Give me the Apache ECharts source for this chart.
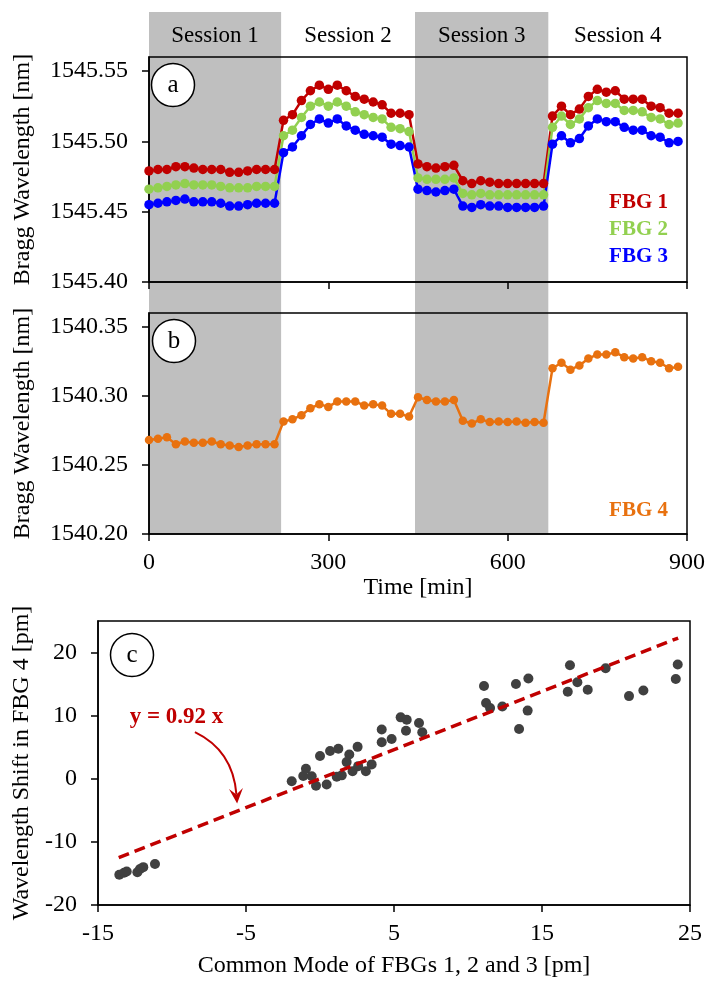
<!DOCTYPE html>
<html><head><meta charset="utf-8">
<script src="https://cdn.jsdelivr.net/npm/echarts@6/dist/echarts.min.js"></script>
<style>html,body{margin:0;padding:0;background:#fff}#c{width:719px;height:992px}</style>
</head><body><div id="c"></div>
<script>
// ---------- data ----------
const times = [0,15,30,45,60,75,90,105,120,135,150,165,180,195,210,
  225,240,255,270,285,300,315,330,345,360,375,390,405,420,435,
  450,465,480,495,510,525,540,555,570,585,600,615,630,645,660,
  675,690,705,720,735,750,765,780,795,810,825,840,855,870,885];

const fbg1 = [1545.479,1545.480,1545.480,1545.482,1545.482,1545.481,1545.480,1545.480,1545.480,1545.478,1545.478,1545.479,1545.480,1545.480,1545.480,
  1545.515,1545.519,1545.529,1545.536,1545.540,1545.537,1545.540,1545.536,1545.532,1545.530,1545.528,1545.526,1545.520,1545.520,1545.519,
  1545.484,1545.482,1545.481,1545.482,1545.483,1545.472,1545.470,1545.472,1545.471,1545.470,1545.470,1545.470,1545.470,1545.470,1545.470,
  1545.518,1545.525,1545.519,1545.523,1545.532,1545.537,1545.535,1545.536,1545.530,1545.530,1545.530,1545.525,1545.524,1545.520,1545.520];

const fbg2 = [1545.466,1545.467,1545.468,1545.469,1545.470,1545.469,1545.469,1545.469,1545.468,1545.467,1545.467,1545.467,1545.468,1545.468,1545.468,
  1545.504,1545.508,1545.517,1545.525,1545.528,1545.525,1545.528,1545.525,1545.521,1545.519,1545.517,1545.516,1545.510,1545.509,1545.507,
  1545.474,1545.473,1545.473,1545.473,1545.474,1545.463,1545.462,1545.463,1545.462,1545.462,1545.462,1545.462,1545.462,1545.462,1545.462,
  1545.510,1545.518,1545.512,1545.516,1545.524,1545.529,1545.527,1545.527,1545.522,1545.522,1545.521,1545.517,1545.516,1545.512,1545.513];

const fbg3 = [1545.455,1545.456,1545.457,1545.458,1545.459,1545.457,1545.457,1545.457,1545.456,1545.454,1545.454,1545.455,1545.456,1545.456,1545.456,
  1545.492,1545.496,1545.504,1545.512,1545.516,1545.513,1545.516,1545.511,1545.508,1545.505,1545.504,1545.503,1545.498,1545.497,1545.496,
  1545.466,1545.465,1545.464,1545.465,1545.466,1545.454,1545.453,1545.455,1545.454,1545.454,1545.453,1545.453,1545.453,1545.453,1545.454,
  1545.498,1545.504,1545.499,1545.502,1545.511,1545.516,1545.514,1545.514,1545.510,1545.508,1545.508,1545.504,1545.503,1545.499,1545.500];

const fbg4 = [1540.268,1540.269,1540.270,1540.265,1540.267,1540.266,1540.266,1540.267,1540.265,1540.264,1540.263,1540.264,1540.265,1540.265,1540.265,
  1540.2815,1540.283,1540.286,1540.291,1540.294,1540.292,1540.296,1540.296,1540.296,1540.293,1540.294,1540.293,1540.287,1540.287,1540.285,
  1540.299,1540.297,1540.296,1540.296,1540.297,1540.282,1540.280,1540.283,1540.281,1540.2815,1540.281,1540.2815,1540.2805,1540.281,1540.2805,
  1540.320,1540.324,1540.319,1540.322,1540.327,1540.330,1540.330,1540.3315,1540.328,1540.327,1540.328,1540.325,1540.324,1540.320,1540.321];

const sessionNames = ['Session 1','Session 2','Session 3','Session 4'];
const sessionStart = [0, 221, 445, 668];
const sessionEnd   = [221, 445, 668, 900];
const sessionShaded = [true, false, true, false];

const timeTicks = [0, 300, 600, 900];
const yTicksA = [1545.40, 1545.45, 1545.50, 1545.55];
const yTicksB = [1540.20, 1540.25, 1540.30, 1540.35];

const scatterX = [-13.56,-13.24,-13.06,-12.34,-12.16,-11.94,-11.15,
  -1.91,-0.95,-1.13,-0.56,-0.27,0.0,0.45,0.68,1.24,1.13,1.47,1.8,1.98,2.2,2.54,2.58,3.1,3.49,4.17,4.17,4.84,5.45,5.86,5.81,6.69,6.91,
  11.08,11.22,11.49,12.32,13.24,14.08,14.03,13.45,16.89,16.74,17.39,18.09,19.3,20.88,21.85,24.17,24.04];
const scatterY = [-15.2,-14.9,-14.7,-14.8,-14.3,-14.0,-13.5,
  -0.4,1.6,0.43,0.4,-1.1,3.6,-0.9,4.4,4.75,0.34,0.54,2.64,3.85,1.2,5.06,2.0,1.2,2.28,7.8,5.8,6.3,9.73,9.36,7.6,8.84,7.36,
  14.7,12.0,11.2,11.46,15.03,15.9,10.8,7.9,18.0,13.8,15.3,14.1,17.5,13.1,14.0,18.1,15.8];
const trendX = [-13.6, 24.2];
const trendY = [-12.5, 22.3];
const xTicksC = [-15, -5, 5, 15, 25];
const yTicksC = [-20, -10, 0, 10, 20];

// ---------- chart ----------
const FONT = "'Liberation Serif','Times New Roman',serif";
const C_RED = '#C00000', C_GREEN = '#92D050', C_BLUE = '#0000FF', C_ORANGE = '#E8710F', C_GRAY = '#BFBFBF';
const chart = echarts.init(document.getElementById('c'), null, {renderer: 'canvas'});

function zip(a, b) { return a.map((v, i) => [v, b[i]]); }

const axisLineStyle = {show: true, onZero: false, lineStyle: {color: '#000', width: 1.5}};
const tickStyle = {show: true, inside: false, length: 7, lineStyle: {color: '#000', width: 1.5}};
const labelStyle = {color: '#000', fontSize: 24, fontFamily: FONT};
const nameStyle = {color: '#000', fontSize: 24, fontFamily: FONT};

const bandData = sessionNames.map((n, i) => [
  {name: n, xAxis: sessionStart[i], itemStyle: {color: sessionShaded[i] ? C_GRAY : 'rgba(0,0,0,0)'}},
  {xAxis: sessionEnd[i]}
]);

function lineSeries(name, data, color, xi, size) {
  return {
    name, type: 'line', xAxisIndex: xi, yAxisIndex: xi, data: zip(times, data),
    symbol: 'circle', symbolSize: size, showSymbol: true, z: 3,
    lineStyle: {color, width: 2.5}, itemStyle: {color}, emphasis: {disabled: true}, animation: false
  };
}

const option = {
  animation: false,
  backgroundColor: '#fff',
  grid: [
    {left: 149, right: 32, top: 12, height: 522, show: false},
    {left: 149, right: 32, top: 57, height: 225, show: true, borderColor: '#000', borderWidth: 1.5, backgroundColor: 'transparent'},
    {left: 149, right: 32, top: 313, height: 221, show: true, borderColor: '#000', borderWidth: 1.5, backgroundColor: 'transparent'},
    {left: 98, right: 29, top: 621, height: 284, show: true, borderColor: '#000', borderWidth: 1.5, backgroundColor: 'transparent'}
  ],
  xAxis: [
    {gridIndex: 0, type: 'value', min: 0, max: 900, show: false},
    {gridIndex: 1, type: 'value', min: 0, max: 900, interval: 300, axisLine: axisLineStyle, axisTick: tickStyle,
      axisLabel: {show: false}, splitLine: {show: false}},
    {gridIndex: 2, type: 'value', min: 0, max: 900, interval: 300, axisLine: axisLineStyle, axisTick: tickStyle,
      axisLabel: Object.assign({margin: 17}, labelStyle), splitLine: {show: false},
      name: 'Time [min]', nameLocation: 'middle', nameGap: 39, nameTextStyle: nameStyle},
    {gridIndex: 3, type: 'value', min: -15, max: 25, axisLine: axisLineStyle,
      axisTick: Object.assign({customValues: xTicksC}, tickStyle),
      axisLabel: Object.assign({margin: 17, customValues: xTicksC}, labelStyle), splitLine: {show: false},
      name: 'Common Mode of FBGs 1, 2 and 3 [pm]', nameLocation: 'middle', nameGap: 49, nameTextStyle: nameStyle}
  ],
  yAxis: [
    {gridIndex: 0, type: 'value', min: 0, max: 1, show: false},
    {gridIndex: 1, type: 'value', min: 1545.40, max: 1545.56, axisLine: axisLineStyle,
      axisTick: Object.assign({customValues: yTicksA}, tickStyle),
      axisLabel: Object.assign({margin: 21, customValues: yTicksA, formatter: v => v.toFixed(2)}, labelStyle),
      splitLine: {show: false},
      name: 'Bragg Wavelength [nm]', nameLocation: 'middle', nameGap: 114, nameTextStyle: nameStyle},
    {gridIndex: 2, type: 'value', min: 1540.20, max: 1540.36, axisLine: axisLineStyle,
      axisTick: Object.assign({customValues: yTicksB}, tickStyle),
      axisLabel: Object.assign({margin: 21, customValues: yTicksB, formatter: v => v.toFixed(2)}, labelStyle),
      splitLine: {show: false},
      name: 'Bragg Wavelength [nm]', nameLocation: 'middle', nameGap: 114, nameTextStyle: nameStyle},
    {gridIndex: 3, type: 'value', min: -20, max: 25, axisLine: axisLineStyle,
      axisTick: Object.assign({customValues: yTicksC}, tickStyle),
      axisLabel: Object.assign({margin: 21, customValues: yTicksC}, labelStyle),
      splitLine: {show: false},
      name: 'Wavelength Shift in FBG 4 [pm]', nameLocation: 'middle', nameGap: 64, nameTextStyle: nameStyle}
  ],
  series: [
    {type: 'line', xAxisIndex: 0, yAxisIndex: 0, data: [], z: -10, silent: true,
      markArea: {silent: true, z: -10, data: bandData,
        label: {show: true, position: 'insideTop', distance: 12, formatter: '{b}', color: '#000', fontSize: 23, fontFamily: FONT},
        emphasis: {disabled: true}}},
    lineSeries('FBG 1', fbg1, C_RED, 1, 9.5),
    lineSeries('FBG 2', fbg2, C_GREEN, 1, 9.5),
    lineSeries('FBG 3', fbg3, C_BLUE, 1, 9.5),
    lineSeries('FBG 4', fbg4, C_ORANGE, 2, 8.5),
    {name: 'fit', type: 'line', xAxisIndex: 3, yAxisIndex: 3, data: zip(trendX, trendY), symbol: 'none', z: 4,
      lineStyle: {color: C_RED, width: 3.5, type: [11, 6]}},
    {name: 'scatter', type: 'scatter', xAxisIndex: 3, yAxisIndex: 3, data: zip(scatterX, scatterY),
      symbolSize: 10, itemStyle: {color: '#404040', opacity: 1}, z: 3}
  ]
};
chart.setOption(option);

// ---------- annotations ----------
function px(grid, p) { return chart.convertToPixel({gridIndex: grid}, p); }
const circ = (cx, cy, t) => ({type: 'group', children: [
  {type: 'circle', shape: {cx, cy, r: 21.5}, style: {fill: '#fff', stroke: '#000', lineWidth: 1.5}, z: 50},
  {type: 'text', x: cx, y: cy, style: {text: t, fontSize: 25, fontFamily: FONT, fill: '#000', align: 'center', verticalAlign: 'middle'}, z: 51}
]});
const lbl = (x, y, t, c) => ({type: 'text', x, y, z: 50,
  style: {text: t, fontSize: 21, fontWeight: 'bold', fontFamily: FONT, fill: c, align: 'right', verticalAlign: 'middle'}});

const textP = px(3, [-9.7, 9.8]);
const aS = px(3, [-8.45, 7.4]);
const aC = px(3, [-5.88, 4.5]);
const aT = px(3, [-5.6, -3.9]);
const dx = aT[0] - aC[0], dy = aT[1] - aC[1], L = Math.hypot(dx, dy);
const ux = dx / L, uy = dy / L;
const back = 15, half = 7;
const b1 = [aT[0] - ux * back - uy * half, aT[1] - uy * back + ux * half];
const b2 = [aT[0] - ux * back + uy * half, aT[1] - uy * back - ux * half];
const notch = [aT[0] - ux * back * 0.6, aT[1] - uy * back * 0.6];

chart.setOption({graphic: [
  circ(173, 85, 'a'), circ(174, 341, 'b'), circ(132, 655, 'c'),
  lbl(668, 203, 'FBG 1', C_RED), lbl(668, 230, 'FBG 2', C_GREEN), lbl(668, 257, 'FBG 3', C_BLUE),
  lbl(668, 511, 'FBG 4', C_ORANGE),
  {type: 'text', x: textP[0], y: textP[1], z: 50,
    style: {text: 'y = 0.92 x', fontSize: 23, fontWeight: 'bold', fontFamily: FONT, fill: C_RED, align: 'center', verticalAlign: 'middle'}},
  {type: 'bezierCurve', z: 50, shape: {x1: aS[0], y1: aS[1], x2: notch[0], y2: notch[1], cpx1: aC[0], cpy1: aC[1]},
    style: {stroke: C_RED, lineWidth: 2, fill: null}},
  {type: 'polygon', z: 50, shape: {points: [aT, b1, notch, b2]}, style: {fill: C_RED}}
]});
</script></body></html>
